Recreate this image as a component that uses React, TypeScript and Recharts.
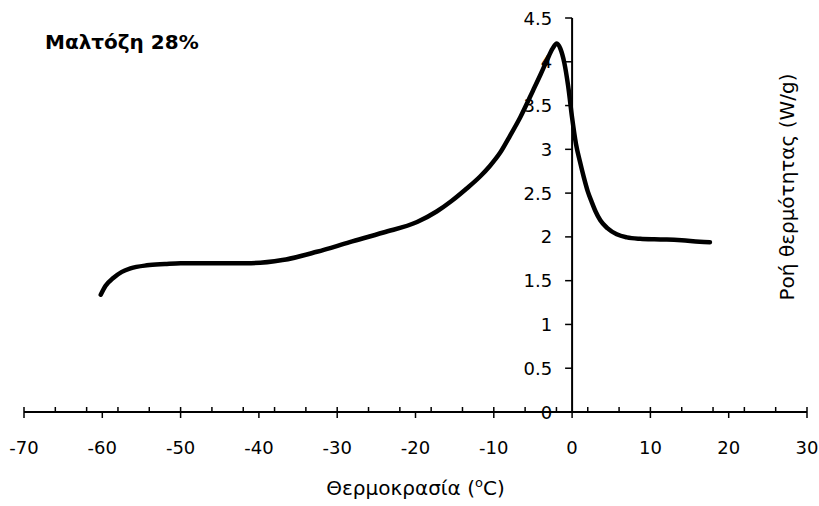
import React from "react";
import { LineChart, Line, XAxis, YAxis, ReferenceLine, ReferenceDot } from "recharts";

// DSC trace: temperature (°C) vs heat flow (W/g)
const temps = [
  -60.2, -59.6, -58.6, -57.5, -56.4, -54.3, -52, -50, -45, -41, -37, -32.6, -28.4, -24.1, -19.8, -17.3,
  -15.4, -13.5, -11.75, -10.5, -9.2, -7.9, -6.6, -5, -4, -3.2, -2.5, -1.95, -1.5, -1.0, -0.5, 0, 0.5, 1.0,
  1.5, 2.0, 2.5, 3.0, 3.6, 4.5, 5.7, 7, 8.7, 10.5, 12.1, 14, 16.3, 17.6,
];
const heatFlow = [
  1.34, 1.44, 1.53, 1.6, 1.64, 1.675, 1.69, 1.7, 1.7, 1.7, 1.735, 1.83, 1.94, 2.05, 2.17, 2.29,
  2.41, 2.55, 2.69, 2.81, 2.96, 3.16, 3.37, 3.67, 3.86, 4.02, 4.15, 4.21, 4.15, 3.99, 3.72, 3.36, 3.06, 2.86,
  2.68, 2.52, 2.4, 2.29, 2.19, 2.1, 2.03, 1.995, 1.978, 1.972, 1.97, 1.962, 1.945, 1.94,
];

const xTicks = [-70, -60, -50, -40, -30, -20, -10, 0, 10, 20, 30];
const xMinorTicks = [
  -70, -66, -62, -58, -54, -50, -46, -42, -38, -34, -30, -26, -22, -18, -14, -10, -6, -2, 2, 6, 10, 14, 18, 22,
  26, 30,
];
const yTicks = [0, 0.5, 1, 1.5, 2, 2.5, 3, 3.5, 4, 4.5];

const title = "Μαλτόζη 28%";
const yLabel = "Ροή θερμότητας (W/g)";

const FONT = "'DejaVu Sans', sans-serif";
const FS = 18;

const data = temps.map((t, i) => ({ t, q: heatFlow[i] }));

const yTickShape = (label: string) => (p: any) => (
  <g>
    <line x1={p.cx - 7} x2={p.cx} y1={p.cy} y2={p.cy} stroke="#000" strokeWidth={1.5} />
    <text
      x={p.cx - 20}
      y={p.cy}
      textAnchor="end"
      dominantBaseline="central"
      fontSize={FS}
      fontFamily={FONT}
      fill="#000"
    >
      {label}
    </text>
  </g>
);

const minorTickShape = (p: any) => (
  <line x1={p.cx} x2={p.cx} y1={p.cy - 5} y2={p.cy} stroke="#000" strokeWidth={1.5} />
);

const xLabel = ({ viewBox }: any) => (
  <text
    x={viewBox.x + viewBox.width / 2}
    y={viewBox.y + 83}
    textAnchor="middle"
    fontSize={20}
    fontFamily={FONT}
    fill="#000"
  >
    Θερμοκρασία (
    <tspan fontSize={13} dy={-8}>
      o
    </tspan>
    <tspan dy={8}>C)</tspan>
  </text>
);

export default function App() {
  return (
    <div style={{ position: "absolute", left: 0, top: 0, width: 819, height: 506, background: "#fff" }}>
      <LineChart width={819} height={506} data={data} margin={{ top: 18, right: 12, left: 24, bottom: 34 }}>
        <XAxis
          dataKey="t"
          type="number"
          domain={[-70, 30]}
          ticks={xTicks}
          interval={0}
          height={60}
          tickSize={6}
          tickMargin={23}
          axisLine={{ stroke: "#000", strokeWidth: 2 }}
          tickLine={{ stroke: "#000", strokeWidth: 1.5 }}
          tick={{ fill: "#000", fontSize: FS, fontFamily: FONT }}
          label={{ content: xLabel }}
        />
        <YAxis hide width={0} type="number" domain={[0, 4.5]} ticks={yTicks} />
        <ReferenceLine x={0} stroke="#000" strokeWidth={2} />
        {yTicks.map((v) => (
          <ReferenceDot key={"y" + v} x={0} y={v} r={0} shape={yTickShape(String(v))} />
        ))}
        {xMinorTicks.map((v) => (
          <ReferenceDot key={"m" + v} x={v} y={0} r={0} shape={minorTickShape} />
        ))}
        <Line
          type="monotone"
          dataKey="q"
          stroke="#000"
          strokeWidth={4.5}
          strokeLinecap="round"
          dot={false}
          isAnimationActive={false}
        />
      </LineChart>
      <svg
        width={819}
        height={506}
        style={{ position: "absolute", left: 0, top: 0, pointerEvents: "none" }}
      >
        <text x={45} y={49} fontSize={20} fontWeight="bold" fontFamily={FONT} fill="#000">
          {title}
        </text>
        <text
          transform="translate(794 187) rotate(-90)"
          textAnchor="middle"
          fontSize={20}
          fontFamily={FONT}
          fill="#000"
        >
          {yLabel}
        </text>
      </svg>
    </div>
  );
}
